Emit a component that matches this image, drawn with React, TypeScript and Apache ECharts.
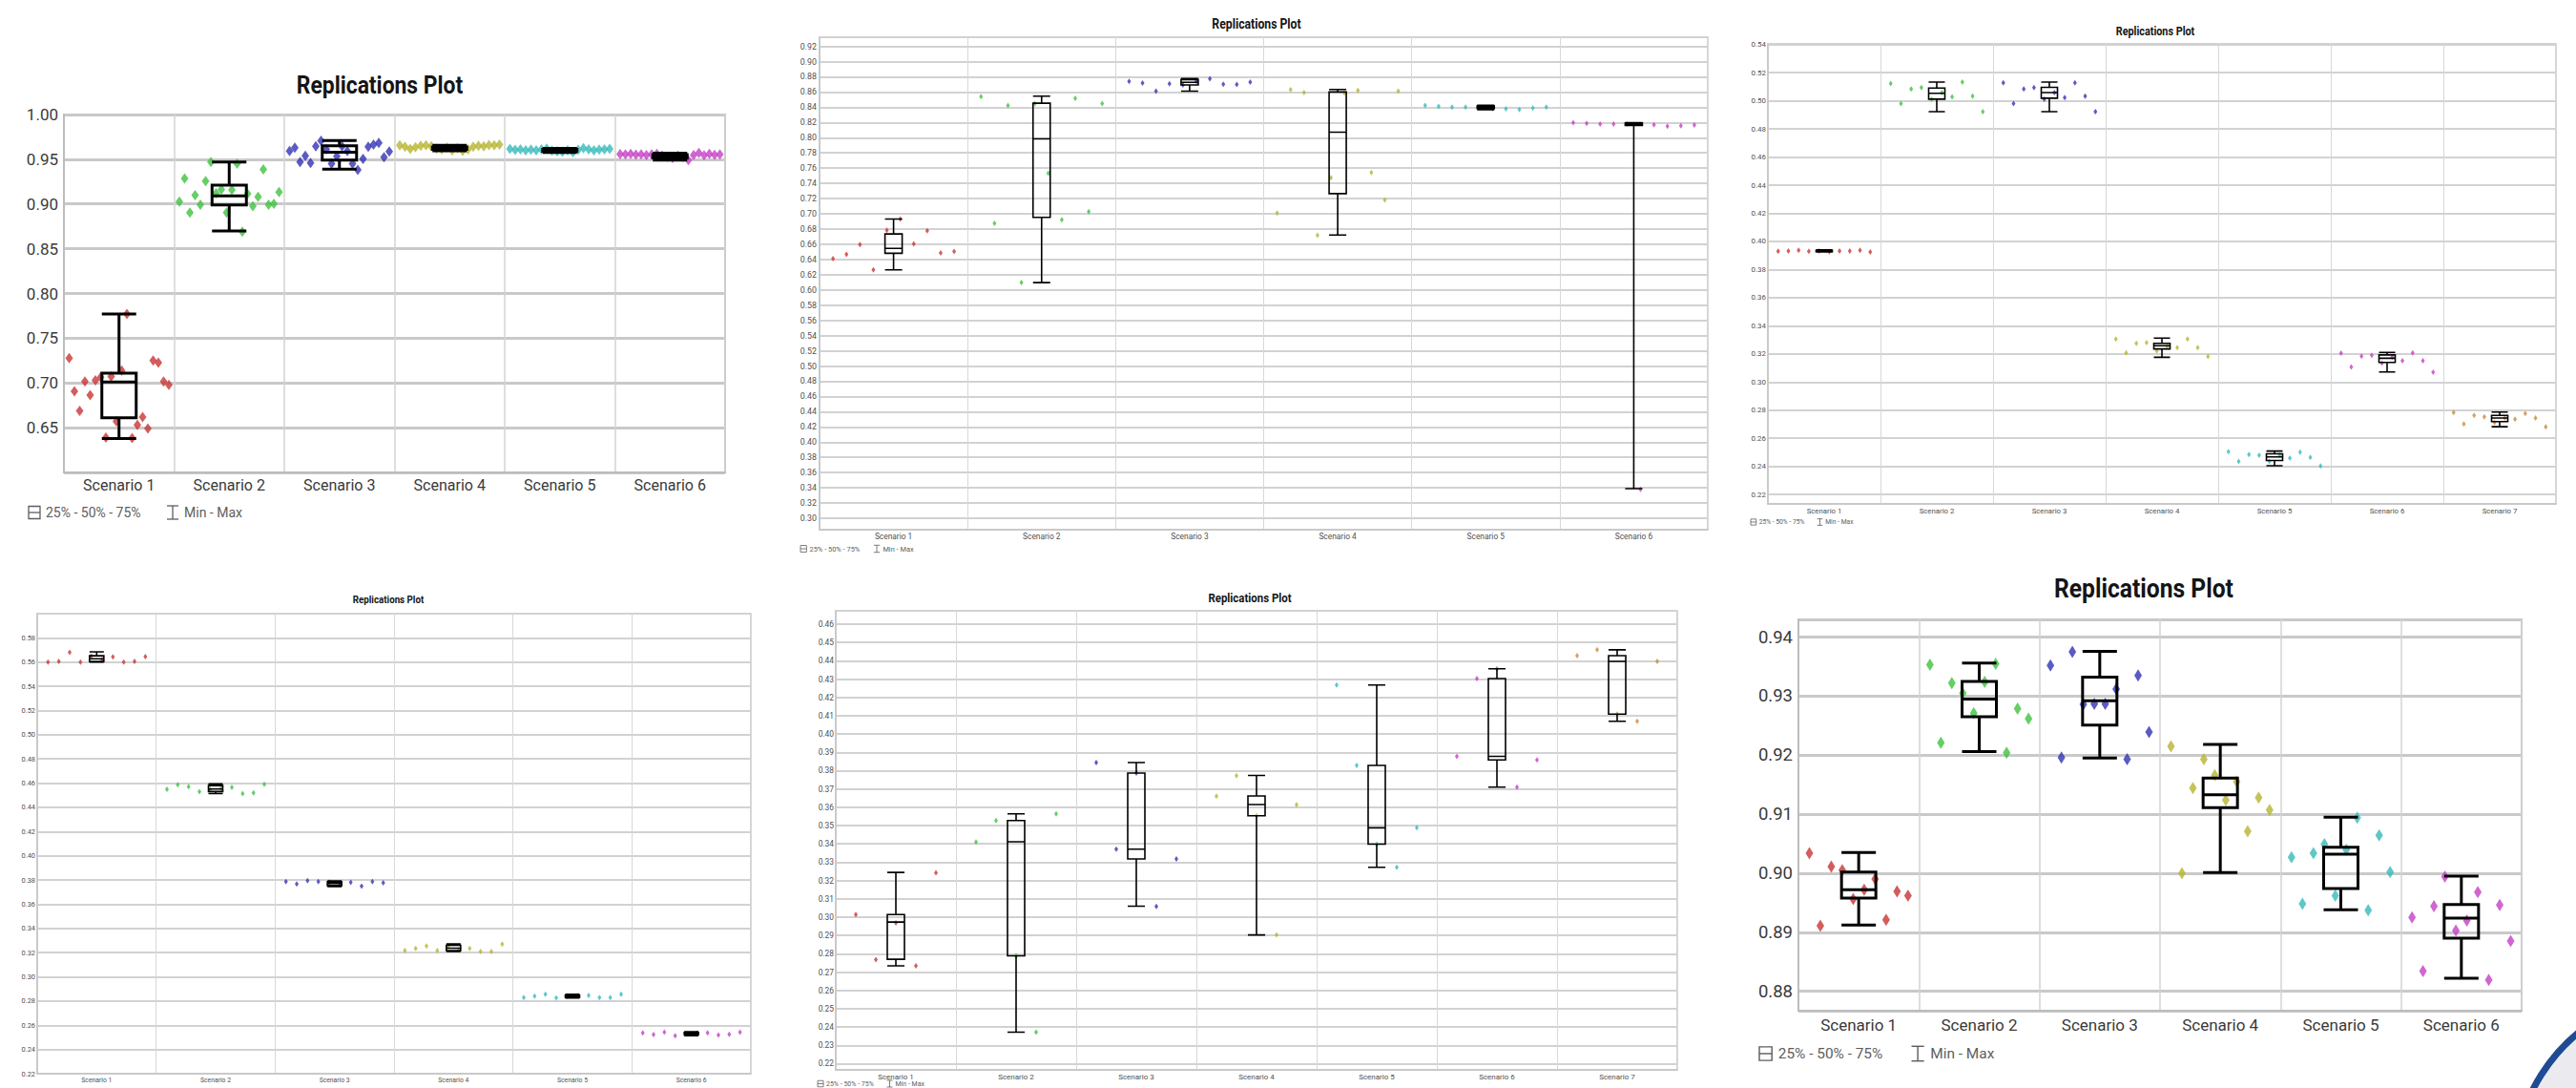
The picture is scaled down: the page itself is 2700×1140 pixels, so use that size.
import React, { useEffect, useRef } from "react";
import * as echarts from "echarts";

const FONT = "Roboto, 'Liberation Sans', sans-serif";
const TITLE = "Replications Plot";
const LEGEND_BOX = "25% - 50% - 75%";
const LEGEND_RANGE = "Min - Max";

const SCEN6 = ["Scenario 1", "Scenario 2", "Scenario 3", "Scenario 4", "Scenario 5", "Scenario 6"];
const SCEN7 = ["Scenario 1", "Scenario 2", "Scenario 3", "Scenario 4", "Scenario 5", "Scenario 6", "Scenario 7"];
const PALETTE = ["#c83434", "#3ec23e", "#3232b4", "#b6b430", "#36baba", "#c63ec6", "#c88a3e"];

// ---------- Panel 1 (top-left): [min, q1, median, q3, max] ----------
const p1Box = [
  [0.638, 0.661, 0.701, 0.711, 0.777],
  [0.870, 0.899, 0.909, 0.921, 0.947],
  [0.939, 0.949, 0.958, 0.965, 0.971],
  [0.9595, 0.9612, 0.9625, 0.9638, 0.9655],
  [0.9575, 0.959, 0.960, 0.961, 0.9622],
  [0.949, 0.9515, 0.9535, 0.9552, 0.9568],
];
const p1Reps = [
  [0.7277, 0.6906, 0.6687, 0.7016, 0.6864, 0.703, 0.7065, 0.639, 0.7073, 0.657, 0.714, 0.7772, 0.6383, 0.653, 0.662, 0.649, 0.725, 0.7226, 0.7016, 0.698],
  [0.9028, 0.9286, 0.8904, 0.9098, 0.8992, 0.9257, 0.947, 0.912, 0.9162, 0.8904, 0.9158, 0.9452, 0.8692, 0.9116, 0.8975, 0.9081, 0.9388, 0.8992, 0.9003, 0.9134],
  [0.9593, 0.9629, 0.947, 0.954, 0.9459, 0.9646, 0.9707, 0.9611, 0.9452, 0.9533, 0.9646, 0.9593, 0.9452, 0.9381, 0.9505, 0.9639, 0.9663, 0.9682, 0.9522, 0.9586],
  [0.9655, 0.964, 0.9615, 0.9635, 0.965, 0.9655, 0.9645, 0.962, 0.961, 0.963, 0.96, 0.9625, 0.9595, 0.961, 0.964, 0.965, 0.9645, 0.966, 0.9655, 0.9665],
  [0.9615, 0.9605, 0.9612, 0.96, 0.9608, 0.96, 0.9612, 0.9618, 0.9598, 0.959, 0.9585, 0.96, 0.958, 0.9605, 0.9625, 0.961, 0.96, 0.9608, 0.9612, 0.9615],
  [0.9558, 0.9555, 0.956, 0.9552, 0.9556, 0.9548, 0.9555, 0.956, 0.9542, 0.9528, 0.9515, 0.954, 0.9525, 0.9492, 0.9548, 0.957, 0.9545, 0.956, 0.955, 0.9555],
];

// ---------- Panel 2 (top-middle) ----------
const p2Box = [
  [0.6263, 0.6481, 0.6546, 0.6736, 0.6931],
  [0.6096, 0.6954, 0.7984, 0.8453, 0.8546],
  [0.8611, 0.8694, 0.8727, 0.8764, 0.8778],
  [0.6722, 0.7265, 0.8073, 0.8601, 0.8634],
  [0.8369, 0.8383, 0.8402, 0.8416, 0.8425],
  [0.339, 0.8161, 0.8175, 0.8193, 0.8198],
];
const p2Reps = [
  [0.6411, 0.6467, 0.6597, 0.6263, 0.6783, 0.6931, 0.6606, 0.6778, 0.6486, 0.6504],
  [0.8541, 0.6875, 0.8425, 0.6096, 0.8448, 0.7534, 0.6922, 0.8518, 0.7029, 0.8448],
  [0.8741, 0.8717, 0.8611, 0.8708, 0.8694, 0.8741, 0.8773, 0.8704, 0.8699, 0.8731],
  [0.701, 0.8629, 0.8592, 0.6718, 0.7474, 0.8587, 0.862, 0.7544, 0.7182, 0.8611],
  [0.8425, 0.8411, 0.8402, 0.8402, 0.8393, 0.8379, 0.8379, 0.8369, 0.8388, 0.8402],
  [0.8198, 0.8188, 0.8179, 0.8179, 0.8179, 0.338, 0.817, 0.8151, 0.8158, 0.8167],
];

// ---------- Panel 3 (top-right) ----------
const p3Box = [
  [0.3925, 0.3928, 0.3932, 0.3936, 0.394],
  [0.4923, 0.5012, 0.5054, 0.5091, 0.5133],
  [0.4923, 0.5019, 0.5059, 0.5096, 0.5133],
  [0.3176, 0.3235, 0.3258, 0.3275, 0.3312],
  [0.2405, 0.2442, 0.2467, 0.2489, 0.2509],
  [0.3072, 0.3139, 0.3169, 0.3193, 0.3211],
  [0.2682, 0.2719, 0.2744, 0.2763, 0.2786],
];
const p3Reps = [
  [0.393, 0.3932, 0.3937, 0.393, 0.3932, 0.3927, 0.3932, 0.3932, 0.3937, 0.3925],
  [0.5123, 0.498, 0.5084, 0.5094, 0.5012, 0.5059, 0.5029, 0.5133, 0.5034, 0.4923],
  [0.5128, 0.498, 0.5084, 0.5094, 0.5012, 0.5059, 0.5024, 0.5128, 0.5034, 0.4923],
  [0.3305, 0.3208, 0.3275, 0.328, 0.3221, 0.3255, 0.3245, 0.3305, 0.3245, 0.3181],
  [0.2504, 0.2435, 0.2484, 0.2479, 0.2435, 0.2479, 0.2459, 0.2502, 0.2464, 0.2403],
  [0.3206, 0.3107, 0.3184, 0.3191, 0.3134, 0.3176, 0.3151, 0.3208, 0.3151, 0.307],
  [0.2783, 0.2702, 0.2763, 0.2753, 0.2712, 0.2744, 0.2736, 0.2776, 0.2744, 0.2682],
];

// ---------- Panel 4 (bottom-left) ----------
const p4Box = [
  [0.56, 0.5605, 0.5628, 0.5652, 0.5685],
  [0.4514, 0.4531, 0.4551, 0.458, 0.4594],
  [0.3746, 0.3754, 0.3772, 0.3786, 0.3792],
  [0.3209, 0.3217, 0.3237, 0.326, 0.3272],
  [0.2826, 0.2831, 0.284, 0.2849, 0.2855],
  [0.2514, 0.2523, 0.2531, 0.254, 0.2546],
];
const p4Reps = [
  [0.56, 0.5606, 0.568, 0.56, 0.565, 0.562, 0.5643, 0.56, 0.5606, 0.5646],
  [0.4549, 0.4586, 0.4571, 0.4529, 0.455, 0.456, 0.4566, 0.4514, 0.452, 0.4591],
  [0.3786, 0.3766, 0.3794, 0.3786, 0.378, 0.377, 0.378, 0.3749, 0.3786, 0.3777],
  [0.3217, 0.3234, 0.3254, 0.3217, 0.325, 0.3225, 0.3234, 0.3209, 0.3209, 0.3271],
  [0.2829, 0.284, 0.2857, 0.2826, 0.2838, 0.2845, 0.2846, 0.2829, 0.2829, 0.2857],
  [0.2537, 0.2523, 0.2543, 0.2514, 0.253, 0.2535, 0.2537, 0.252, 0.2526, 0.2543],
];

// ---------- Panel 5 (bottom-middle) ----------
const p5Box = [
  [0.2734, 0.277, 0.2973, 0.3014, 0.3244],
  [0.2372, 0.2789, 0.3412, 0.3528, 0.3564],
  [0.306, 0.3318, 0.3371, 0.3787, 0.3844],
  [0.2903, 0.3554, 0.3615, 0.3662, 0.3774],
  [0.3272, 0.3399, 0.3488, 0.3829, 0.4268],
  [0.371, 0.3859, 0.3878, 0.4303, 0.4356],
  [0.407, 0.4109, 0.4397, 0.4428, 0.446],
];
const p5Reps = [
  [0.3014, 0.2768, 0.2969, 0.2734, 0.3242],
  [0.341, 0.3528, 0.2789, 0.2372, 0.3564],
  [0.3844, 0.3371, 0.3787, 0.3058, 0.3318],
  [0.366, 0.3772, 0.3554, 0.2903, 0.3613],
  [0.4268, 0.3829, 0.3399, 0.3272, 0.3488],
  [0.3878, 0.4303, 0.4356, 0.371, 0.3859],
  [0.4428, 0.446, 0.4109, 0.407, 0.4397],
];

// ---------- Panel 6 (bottom-right) ----------
const p6Box = [
  [0.8912, 0.8958, 0.8972, 0.9002, 0.9035],
  [0.9206, 0.9265, 0.9295, 0.9325, 0.9356],
  [0.9195, 0.9251, 0.9292, 0.9332, 0.9376],
  [0.9001, 0.9111, 0.9133, 0.9161, 0.9218],
  [0.8938, 0.8974, 0.9032, 0.9044, 0.9095],
  [0.8822, 0.889, 0.8924, 0.8947, 0.8995],
];
const p6Reps = [
  [0.9034, 0.8911, 0.9011, 0.9005, 0.8956, 0.8972, 0.899, 0.8921, 0.8969, 0.8962],
  [0.9353, 0.9221, 0.9322, 0.9305, 0.9271, 0.9324, 0.9355, 0.9204, 0.9279, 0.9262],
  [0.9352, 0.9196, 0.9375, 0.9286, 0.9287, 0.9287, 0.9312, 0.9193, 0.9335, 0.9239],
  [0.9215, 0.9, 0.9144, 0.9193, 0.9166, 0.9124, 0.9155, 0.9071, 0.9128, 0.9107],
  [0.9027, 0.8948, 0.9034, 0.9049, 0.8962, 0.904, 0.9094, 0.8937, 0.9064, 0.9002],
  [0.8925, 0.8834, 0.8944, 0.8994, 0.8903, 0.892, 0.8968, 0.8819, 0.8946, 0.8885],
];

// ---------- Layout / styling (not data) ----------
type Layout = {
  x: number; y: number; w: number; h: number;
  yMin: number; yMax: number; step: number; showMin: boolean; showMax: boolean;
  xFont: number; yFont: number; xMargin: number; yMargin: number;
  title: [number, number]; titleFont: number;
  legend: [number, number] | null; legendScale: number;
  sym: [number, number]; boxW: number; boxLW: number;
  hW: number; hColor: string; vW: number; vColor: string;
  border: string; borderW: number; text: string;
};

const BIG = { hW: 3, hColor: "#c9c9c9", vW: 1.5, vColor: "#d3d3d3", border: "#bdbdbd", borderW: 2, text: "#3a3a3a" };
const SMALL = { hW: 2, hColor: "#d2d2d2", vW: 1, vColor: "#d8d8d8", border: "#c6c6c6", borderW: 1.5, text: "#505050" };

const LAYOUTS: Layout[] = [
  { x: 67, y: 120, w: 693, h: 375, yMin: 0.6, yMax: 1.0, step: 0.05, showMin: false, showMax: true,
    xFont: 16, yFont: 17, xMargin: 5, yMargin: 6, title: [398, 89], titleFont: 26, legend: [30, 537], legendScale: 1,
    sym: [8, 11], boxW: 36, boxLW: 3, ...BIG },
  { x: 859, y: 39, w: 931, h: 516, yMin: 0.285, yMax: 0.932, step: 0.02, showMin: false, showMax: false,
    xFont: 8.4, yFont: 8.8, xMargin: 3, yMargin: 3, title: [1317, 25], titleFont: 13.9, legend: [839, 575], legendScale: 0.53,
    sym: [4, 6], boxW: 18, boxLW: 1.6, ...SMALL },
  { x: 1853, y: 46, w: 826, h: 482, yMin: 0.2133, yMax: 0.5405, step: 0.02, showMin: false, showMax: false,
    xFont: 7.8, yFont: 7.9, xMargin: 3, yMargin: 2, title: [2259, 33], titleFont: 12.3, legend: [1835, 547], legendScale: 0.48,
    sym: [4, 6], boxW: 17, boxLW: 1.6, ...SMALL },
  { x: 39, y: 643, w: 748, h: 482, yMin: 0.22, yMax: 0.6, step: 0.02, showMin: true, showMax: false,
    xFont: 6.8, yFont: 7.4, xMargin: 3, yMargin: 2, title: [407, 628], titleFont: 11.1, legend: null, legendScale: 0.5,
    sym: [4, 6], boxW: 15, boxLW: 1.6, ...SMALL },
  { x: 876, y: 640, w: 882, h: 481, yMin: 0.2166, yMax: 0.4673, step: 0.01, showMin: false, showMax: false,
    xFont: 8, yFont: 8.4, xMargin: 3, yMargin: 2, title: [1310, 627], titleFont: 13, legend: [857, 1135.5], legendScale: 0.5,
    sym: [4, 6], boxW: 18, boxLW: 1.6, ...SMALL },
  { x: 1885, y: 649, w: 758, h: 410, yMin: 0.8767, yMax: 0.943, step: 0.01, showMin: false, showMax: false,
    xFont: 17, yFont: 18.5, xMargin: 6, yMargin: 6, title: [2247, 616], titleFont: 28, legend: [1844, 1104], legendScale: 1.1,
    sym: [8, 13], boxW: 36, boxLW: 3, ...BIG },
];

const PANELS = [
  { cats: SCEN6, box: p1Box, reps: p1Reps },
  { cats: SCEN6, box: p2Box, reps: p2Reps },
  { cats: SCEN7, box: p3Box, reps: p3Reps },
  { cats: SCEN6, box: p4Box, reps: p4Reps },
  { cats: SCEN7, box: p5Box, reps: p5Reps },
  { cats: SCEN6, box: p6Box, reps: p6Reps },
];

function legendGroup(x: number, y: number, s: number) {
  const color = "#5e5e5e";
  const st = { stroke: color, lineWidth: Math.max(0.8, 1.3 * s), fill: "none" };
  const ts = { fill: color, fontSize: 14 * s, fontFamily: FONT, verticalAlign: "middle", align: "left" };
  return {
    type: "group", x, y, silent: true,
    children: [
      { type: "rect", shape: { x: 0, y: -6.5 * s, width: 12 * s, height: 13 * s }, style: st },
      { type: "line", shape: { x1: 0, y1: 0, x2: 12 * s, y2: 0 }, style: st },
      { type: "text", x: 18 * s, y: 0, style: { ...ts, text: LEGEND_BOX } },
      { type: "line", shape: { x1: 145 * s, y1: -7 * s, x2: 157 * s, y2: -7 * s }, style: st },
      { type: "line", shape: { x1: 151 * s, y1: -7 * s, x2: 151 * s, y2: 7 * s }, style: st },
      { type: "line", shape: { x1: 145 * s, y1: 7 * s, x2: 157 * s, y2: 7 * s }, style: st },
      { type: "text", x: 163 * s, y: 0, style: { ...ts, text: LEGEND_RANGE } },
    ],
  };
}

function buildOption() {
  const grid: any[] = [];
  const xAxis: any[] = [];
  const yAxis: any[] = [];
  const series: any[] = [];
  const graphic: any[] = [];

  PANELS.forEach((p, i) => {
    const L = LAYOUTS[i];
    const n = p.cats.length;
    grid.push({
      left: L.x, top: L.y, width: L.w, height: L.h, show: true,
      borderColor: L.border, borderWidth: L.borderW, backgroundColor: "transparent",
    });
    xAxis.push({
      gridIndex: i, type: "category", data: p.cats, boundaryGap: true, position: "bottom",
      axisLine: { show: true, onZero: false, lineStyle: { color: L.border, width: L.borderW } },
      axisTick: { show: false },
      axisLabel: { interval: 0, fontFamily: FONT, fontSize: L.xFont, color: L.text, margin: L.xMargin },
      splitLine: { show: true, interval: 0, lineStyle: { color: L.vColor, width: L.vW } },
    });
    xAxis.push({ gridIndex: i, type: "value", min: 0, max: n, show: false, position: "top" });
    yAxis.push({
      gridIndex: i, type: "value", min: L.yMin, max: L.yMax,
      splitNumber: Math.round((L.yMax - L.yMin) / L.step),
      minInterval: L.step, maxInterval: L.step,
      axisLine: { show: true, lineStyle: { color: L.border, width: L.borderW } },
      axisTick: { show: false },
      axisLabel: {
        fontFamily: FONT, fontSize: L.yFont, color: L.text, margin: L.yMargin,
        showMinLabel: L.showMin, showMaxLabel: L.showMax,
        formatter: (v: number) => v.toFixed(2),
      },
      splitLine: { show: true, lineStyle: { color: L.hColor, width: L.hW } },
    });

    p.reps.forEach((vals, s) => {
      series.push({
        type: "scatter", xAxisIndex: 2 * i + 1, yAxisIndex: i, symbol: "diamond", symbolSize: L.sym,
        itemStyle: { color: PALETTE[s] }, silent: true, z: 2,
        data: vals.map((v, k) => [s + (k + 1) / (vals.length + 1), v]),
      });
    });
    series.push({
      type: "boxplot", xAxisIndex: 2 * i, yAxisIndex: i, data: p.box, boxWidth: [L.boxW, L.boxW],
      itemStyle: { color: "rgba(255,255,255,0)", borderColor: "#000000", borderWidth: L.boxLW },
      silent: true, z: 3,
    });

    graphic.push({
      type: "text", x: L.title[0], y: L.title[1], scaleX: 0.88, silent: true,
      style: { text: TITLE, fontSize: L.titleFont, fontWeight: "bold", fontFamily: FONT, fill: "#151515", align: "center", verticalAlign: "middle" },
    });
    if (L.legend) graphic.push(legendGroup(L.legend[0], L.legend[1], L.legendScale));
  });

  graphic.push({
    type: "circle", silent: true, z: -1,
    shape: { cx: 2820, cy: 1225, r: 185 },
    style: { fill: "#ebebef", stroke: "#1f4b94", lineWidth: 7 },
  });

  return { animation: false, backgroundColor: "#ffffff", grid, xAxis, yAxis, series, graphic };
}

export default function App() {
  const ref = useRef<HTMLDivElement>(null);
  useEffect(() => {
    document.body.style.margin = "0";
    const chart = echarts.init(ref.current as HTMLDivElement, null, { renderer: "svg", width: 2700, height: 1140 });
    chart.setOption(buildOption() as any);
    return () => chart.dispose();
  }, []);
  return <div ref={ref} style={{ position: "fixed", left: 0, top: 0, width: 2700, height: 1140, background: "#fff" }} />;
}
